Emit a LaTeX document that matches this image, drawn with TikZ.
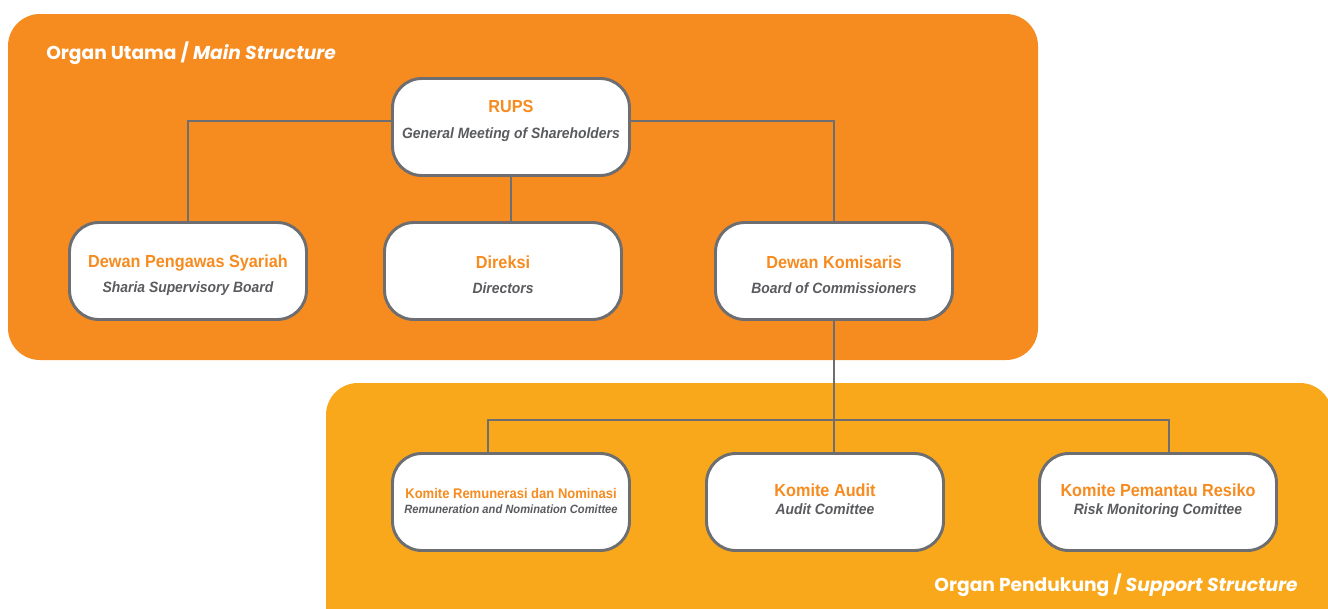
\documentclass[tikz,border=0pt]{standalone}
\usepackage{fontspec}
\usepackage{tikz}
\usetikzlibrary{shapes.geometric, arrows}
\newfontfamily\boxfont{Liberation Sans}[FakeStretch=0.93]
\newfontfamily\secfont{Poppins}
\definecolor{mainorange}{HTML}{F68B1F}
\definecolor{supportyellow}{HTML}{F9A81B}
\definecolor{boxgray}{HTML}{6D6E71}
\definecolor{subgray}{HTML}{5A5B5E}
\newcommand{\orgtitle}[1]{{\fontsize{13.1}{15}\selectfont\bfseries\color{mainorange}#1}}
\newcommand{\orgsub}[1]{{\fontsize{11.2}{13}\selectfont\bfseries\itshape\color{subgray}#1}}
\newcommand{\lowgap}[1]{\rule[-#1]{0pt}{#1}}
\newcommand{\highgap}{\rule{0pt}{15.5pt}}
\tikzstyle{orgbox} = [rectangle, rounded corners=22pt, minimum width=177.75pt, minimum height=72.75pt, text centered, align=center, draw=boxgray, line width=2.2pt, fill=white, font=\boxfont]
\tikzstyle{line} = [draw=boxgray, line width=2pt]
\tikzstyle{seclabel} = [text=white, font=\secfont\bfseries\fontsize{14}{16}\selectfont, inner sep=0pt]

\begin{document}
\begin{tikzpicture}[x=0.75pt, y=-0.75pt, node distance=108pt]
\useasboundingbox (0,0) rectangle (1328,608);
\clip (0,0) rectangle (1328,608);

% the two panels
\fill [mainorange, rounded corners=24pt] (8,14) rectangle (1038,360);
\fill [supportyellow, rounded corners=24pt] (326,383) rectangle (1332,660);

\node (main) [seclabel, anchor=west] at (46,53) {Organ Utama / \textit{Main Structure}};
\node (support) [seclabel, anchor=east] at (1298,585) {Organ Pendukung / \textit{Support Structure}};

\node (0) [orgbox] at (511,127) {\orgtitle{RUPS}\\[7pt]\orgsub{General Meeting of Shareholders}\lowgap{11.5pt}};

\node (1b) [orgbox, below of=0, xshift=-6pt] {\highgap\orgtitle{Direksi}\\[7pt]\orgsub{Directors}};

\node (1a) [orgbox, left of=1b, node distance=236.25pt] {\highgap\orgtitle{Dewan Pengawas Syariah}\\[7pt]\orgsub{Sharia Supervisory Board}};

\node (1c) [orgbox, right of=1b, node distance=248.25pt] {\highgap\orgtitle{Dewan Komisaris}\\[7pt]\orgsub{Board of Commissioners}};

\node (2b) [orgbox, below of=1c, node distance=173.25pt, xshift=-6.75pt] {\orgtitle{Komite Audit}\\[1pt]\orgsub{Audit Comittee}\lowgap{4.5pt}};

\node (2a) [orgbox, left of=2b, node distance=235.5pt] {{\fontsize{10.5}{12}\selectfont\bfseries\color{mainorange}Komite Remunerasi dan Nominasi}\\[-1pt]{\fontsize{9}{10}\selectfont\bfseries\itshape\color{subgray}Remuneration and Nomination Comittee}\lowgap{2pt}};

\node (2c) [orgbox, right of=2b, node distance=249.75pt] {\orgtitle{Komite Pemantau Resiko}\\[1pt]\orgsub{Risk Monitoring Comittee}\lowgap{4.5pt}};

\draw [line] ([yshift=4.5pt]0.west) -| (1a.north);

\draw [line] ([yshift=4.5pt]0.east) -| (1c.north);

\draw [line] (0.south) -- (0.south |- 1b.north);

\draw [line] (1c.south) -- (1c.south |- 2b.north);

\draw [line] ([xshift=-17.25pt]2a.north) -- ++(0,-32) -| ([xshift=8.25pt]2c.north);

\end{tikzpicture}
\end{document}
